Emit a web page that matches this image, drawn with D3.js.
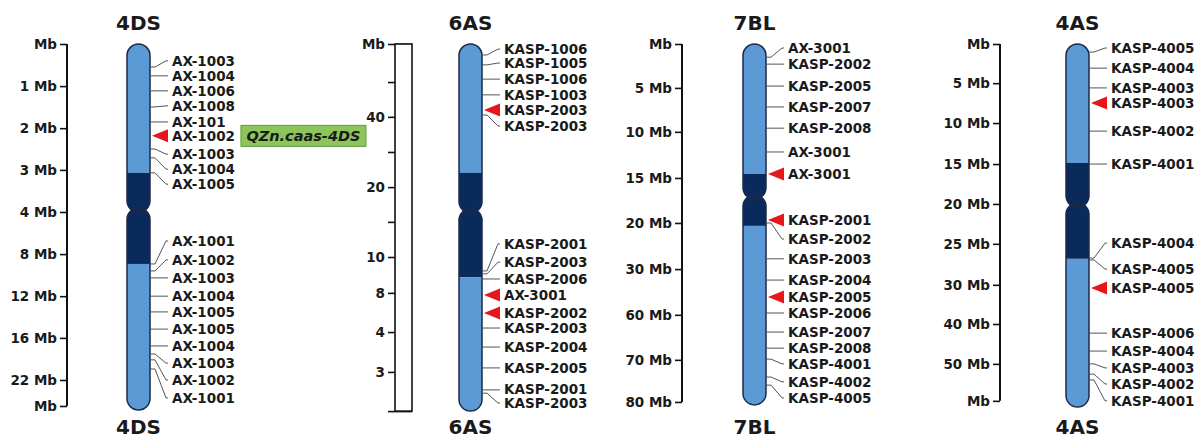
<!DOCTYPE html>
<html lang="en">
<head>
    <meta charset="UTF-8">
    <title>Chromosome maps</title>
    <script src="https://d3js.org/d3.v7.min.js"></script>
    <style>
        body { margin: 0; background: #fff; }
        svg text { font-family: "DejaVu Sans", Arial, sans-serif; font-weight: bold; fill: #1a1a1a; }
    </style>
</head>
<body>
    <svg id="chart" width="1200" height="438"></svg>

    <script>
        // positions along each chromosome are in map units (0 = top of the map)
        const chromNames = ["4DS", "6AS", "7BL", "4AS"];

        // 4DS
        const ticks4DS = [0, 11.5, 23.0, 34.4, 45.9, 57.4, 68.9, 80.3, 91.8, 98.9];
        const tickLabels4DS = ["Mb", "1 Mb", "2 Mb", "3 Mb", "4 Mb", "8 Mb", "12 Mb", "16 Mb", "22 Mb", "Mb"];
        const bands4DS = [[0, 35.2, "light"], [35.2, 60.1, "dark"], [60.1, 100, "light"]];
        const cen4DS = 45.4, len4DS = 100;
        const names4DS = ["AX-1003", "AX-1004", "AX-1006", "AX-1008", "AX-101", "AX-1002", "AX-1003", "AX-1004", "AX-1005",
            "AX-1001", "AX-1002", "AX-1003", "AX-1004", "AX-1005", "AX-1005", "AX-1004", "AX-1003", "AX-1002", "AX-1001"];
        const pos4DS = [6.3, 8.7, 12.8, 17.2, 21.3, 25.1, 28.7, 31.1, 35.2, 60.1, 62.0, 63.9, 68.9, 73.2, 77.9, 82.5, 84.7, 86.3, 88.8];
        const lab4DS = [4.6, 8.7, 12.8, 16.9, 21.3, 25.1, 30.1, 34.2, 38.3, 53.8, 59.0, 63.9, 68.9, 73.2, 77.9, 82.5, 87.2, 91.8, 96.7];
        const hits4DS = [5];
        const qtl4DS = { index: 5, name: "QZn.caas-4DS" };

        // 6AS
        const ticks6AS = [0, 10.4, 19.9, 29.5, 39.1, 48.6, 58.2, 68.0, 78.7, 89.6, 100.3];
        const tickLabels6AS = ["Mb", "", "40", "", "20", "", "10", "8", "4", "3", ""];
        const bands6AS = [[0, 35.2, "light"], [35.2, 63.7, "dark"], [63.7, 100.3, "light"]];
        const cen6AS = 45.6, len6AS = 100.3;
        const names6AS = ["KASP-1006", "KASP-1005", "KASP-1006", "KASP-1003", "KASP-2003", "KASP-2003", "KASP-2001", "KASP-2003",
            "KASP-2006", "AX-3001", "KASP-2002", "KASP-2003", "KASP-2004", "KASP-2005", "KASP-2001", "KASP-2003"];
        const pos6AS = [3.0, 5.7, 9.6, 13.9, 18.0, 19.4, 62.0, 62.8, 64.2, 68.6, 73.5, 77.6, 82.8, 88.5, 94.5, 95.4];
        const lab6AS = [1.4, 5.2, 9.6, 13.9, 18.0, 22.4, 54.6, 59.6, 64.2, 68.6, 73.5, 77.6, 82.8, 88.5, 94.3, 98.1];
        const hits6AS = [4, 9, 10];

        // 7BL
        const ticks7BL = [0, 12.0, 24.0, 36.6, 48.9, 61.5, 74.0, 86.3, 97.8];
        const tickLabels7BL = ["Mb", "5 Mb", "10 Mb", "15 Mb", "20 Mb", "30 Mb", "60 Mb", "70 Mb", "80 Mb"];
        const bands7BL = [[0, 35.5, "light"], [35.5, 49.7, "dark"], [49.7, 98.6, "light"]];
        const cen7BL = 41.8, len7BL = 98.6;
        const names7BL = ["AX-3001", "KASP-2002", "KASP-2005", "KASP-2007", "KASP-2008", "AX-3001", "AX-3001", "KASP-2001", "KASP-2002",
            "KASP-2003", "KASP-2004", "KASP-2005", "KASP-2006", "KASP-2007", "KASP-2008", "KASP-4001", "KASP-4002", "KASP-4005"];
        const pos7BL = [3.6, 5.5, 11.5, 17.2, 23.0, 29.5, 35.5, 48.1, 48.9, 58.7, 64.5, 69.1, 73.5, 78.7, 83.1, 86.1, 91.0, 93.2];
        const lab7BL = [1.1, 5.5, 11.5, 17.2, 23.0, 29.5, 35.5, 48.1, 53.3, 58.7, 64.5, 69.1, 73.5, 78.7, 83.1, 87.4, 92.3, 96.7];
        const hits7BL = [6, 7, 11];

        // 4AS
        const ticks4AS = [0, 10.7, 21.6, 32.8, 43.7, 54.6, 65.8, 76.5, 87.4, 97.5];
        const tickLabels4AS = ["Mb", "5 Mb", "10 Mb", "15 Mb", "20 Mb", "25 Mb", "30 Mb", "40 Mb", "50 Mb", "Mb"];
        const bands4AS = [[0, 32.5, "light"], [32.5, 58.7, "dark"], [58.7, 99.2, "light"]];
        const cen4AS = 44.0, len4AS = 99.2;
        const names4AS = ["KASP-4005", "KASP-4004", "KASP-4003", "KASP-4003", "KASP-4002", "KASP-4001", "KASP-4004",
            "KASP-4005", "KASP-4005", "KASP-4006", "KASP-4004", "KASP-4003", "KASP-4002", "KASP-4001"];
        const pos4AS = [2.2, 6.6, 12.0, 16.1, 23.8, 32.8, 58.5, 59.0, 66.7, 79.0, 83.9, 87.4, 90.2, 91.8];
        const lab4AS = [1.1, 6.6, 12.0, 16.1, 23.8, 32.8, 54.4, 61.5, 66.7, 79.0, 83.9, 88.5, 92.9, 97.5];
        const hits4AS = [3, 8];

        const colors = { light: "#5b9ad5", dark: "#0b2a5c" };
        const outline = "#1b2a48";

        // layout of each panel (x only)
        const panels = [
            { name: chromNames[0], axisX: 67, box: false, chromX: 127, ticks: ticks4DS, tickLabels: tickLabels4DS, bands: bands4DS, cen: cen4DS, len: len4DS, names: names4DS, pos: pos4DS, lab: lab4DS, hits: hits4DS, qtl: qtl4DS },
            { name: chromNames[1], axisX: 395, box: true, chromX: 459, ticks: ticks6AS, tickLabels: tickLabels6AS, bands: bands6AS, cen: cen6AS, len: len6AS, names: names6AS, pos: pos6AS, lab: lab6AS, hits: hits6AS },
            { name: chromNames[2], axisX: 682, box: false, chromX: 743, ticks: ticks7BL, tickLabels: tickLabels7BL, bands: bands7BL, cen: cen7BL, len: len7BL, names: names7BL, pos: pos7BL, lab: lab7BL, hits: hits7BL },
            { name: chromNames[3], axisX: 1000, box: false, chromX: 1066, ticks: ticks4AS, tickLabels: tickLabels4AS, bands: bands4AS, cen: cen4AS, len: len4AS, names: names4AS, pos: pos4AS, lab: lab4AS, hits: hits4AS }
        ];

        const chromW = 23, boxW = 17;
        const svg = d3.select("#chart");
        const y = d3.scaleLinear().domain([0, 100]).range([44, 410]);
        const defs = svg.append("defs");

        panels.forEach((p, pi) => {
            const g = svg.append("g");
            const top = y(p.ticks[0]), bottom = y(p.ticks[p.ticks.length - 1]);

            // scale axis
            const axis = d3.axisLeft(y)
                .tickValues(p.ticks)
                .tickFormat((d, i) => p.tickLabels[i])
                .tickSize(7)
                .tickPadding(3);
            const ax = g.append("g").attr("transform", `translate(${p.axisX},0)`).call(axis);
            ax.select(".domain").remove();
            ax.attr("font-family", null).attr("font-size", 13.5);
            ax.selectAll(".tick line").attr("stroke", "#111").attr("stroke-width", 1.6);
            ax.selectAll(".tick text").attr("fill", "#1a1a1a");

            if (p.box) {
                g.append("rect")
                    .attr("x", p.axisX).attr("y", top)
                    .attr("width", boxW).attr("height", bottom - top)
                    .attr("fill", "#fff").attr("stroke", "#111").attr("stroke-width", 1.6);
                // top and bottom ticks run across the box
                ax.selectAll(".tick line").filter((d, i) => i === 0 || i === p.ticks.length - 1)
                    .attr("x2", boxW).attr("x1", -7);
            } else {
                g.append("line")
                    .attr("x1", p.axisX).attr("x2", p.axisX)
                    .attr("y1", top).attr("y2", bottom)
                    .attr("stroke", "#111").attr("stroke-width", 2);
            }

            // chromosome arms
            const arms = [[0, p.cen + 0.6], [p.cen - 0.6, p.len]];
            const clipId = "clip" + pi;
            const clip = defs.append("clipPath").attr("id", clipId);
            arms.forEach(a => {
                clip.append("rect")
                    .attr("x", p.chromX).attr("y", y(a[0]))
                    .attr("width", chromW).attr("height", y(a[1]) - y(a[0]))
                    .attr("rx", chromW / 2).attr("ry", chromW / 2);
            });
            g.append("g").attr("clip-path", `url(#${clipId})`)
                .selectAll("rect")
                .data(p.bands)
                .join("rect")
                .attr("x", p.chromX).attr("y", d => y(d[0]))
                .attr("width", chromW).attr("height", d => y(d[1]) - y(d[0]))
                .attr("fill", d => colors[d[2]]);
            arms.forEach(a => {
                g.append("rect")
                    .attr("x", p.chromX).attr("y", y(a[0]))
                    .attr("width", chromW).attr("height", y(a[1]) - y(a[0]))
                    .attr("rx", chromW / 2).attr("ry", chromW / 2)
                    .attr("fill", "none").attr("stroke", outline).attr("stroke-width", 1.5);
            });

            // markers
            const cr = p.chromX + chromW;
            const labelX = cr + 22;
            const markers = p.names.map((n, i) => ({ name: n, pos: p.pos[i], lab: p.lab[i], hit: p.hits.includes(i), i: i }));

            g.selectAll(".link")
                .data(markers.filter(m => !m.hit))
                .join("path")
                .attr("fill", "none").attr("stroke", "#555").attr("stroke-width", 1)
                .attr("d", m => {
                    const py = y(m.pos), ly = y(m.lab);
                    if (Math.abs(py - ly) < 0.8) return `M${cr},${py}H${labelX - 4}`;
                    return `M${cr},${py}h5L${cr + 16},${ly}H${labelX - 4}`;
                });

            g.selectAll(".hit")
                .data(markers.filter(m => m.hit))
                .join("path")
                .attr("fill", "#e5161c")
                .attr("d", m => {
                    const py = y(m.pos);
                    return `M${cr + 2},${py}L${cr + 18},${py - 6.5}L${cr + 18},${py + 6.5}Z`;
                });

            const labels = g.selectAll(".mlabel")
                .data(markers)
                .join("text")
                .attr("x", labelX)
                .attr("y", m => y(m.lab))
                .attr("dy", "0.36em")
                .attr("font-size", 13.5)
                .text(m => m.name);

            // QTL tag
            if (p.qtl) {
                const node = labels.filter(m => m.i === p.qtl.index).node();
                const bb = node.getBBox();
                const py = y(p.pos[p.qtl.index]);
                const bx = bb.x + bb.width + 6;
                g.append("rect")
                    .attr("x", bx).attr("y", py - 10.5)
                    .attr("width", 125).attr("height", 21)
                    .attr("fill", "#8cc65a").attr("stroke", "#5f9a3c").attr("stroke-width", 1);
                g.append("text")
                    .attr("x", bx + 62.5).attr("y", py)
                    .attr("dy", "0.36em")
                    .attr("text-anchor", "middle")
                    .attr("font-size", 14.5)
                    .attr("font-style", "italic")
                    .text(p.qtl.name);
            }

            // titles top and bottom
            [30, 434].forEach(ty => {
                g.append("text")
                    .attr("x", p.chromX + chromW / 2)
                    .attr("y", ty)
                    .attr("text-anchor", "middle")
                    .attr("font-size", 20)
                    .text(p.name);
            });
        });
    </script>
</body>
</html>
